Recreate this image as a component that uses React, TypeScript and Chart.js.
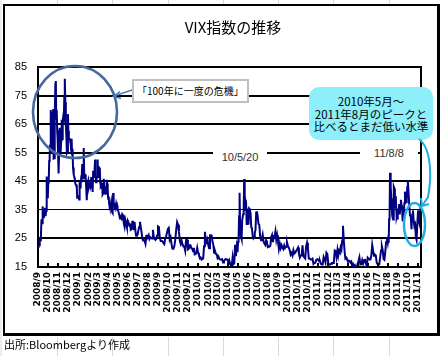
import React, { useEffect, useRef } from "react";
import { Chart, registerables } from "chart.js";

Chart.register(...registerables);

// ---- Data (VIX close, sampled through each month) ----
const monthLabels = [
  "2008/9", "2008/10", "2008/11", "2008/12",
  "2009/1", "2009/2", "2009/3", "2009/4", "2009/5", "2009/6", "2009/7", "2009/8", "2009/9", "2009/10", "2009/11", "2009/12",
  "2010/1", "2010/2", "2010/3", "2010/4", "2010/5", "2010/6", "2010/7", "2010/8", "2010/9", "2010/10", "2010/11", "2010/12",
  "2011/1", "2011/2", "2011/3", "2011/4", "2011/5", "2011/6", "2011/7", "2011/8", "2011/9", "2011/10", "2011/11",
];

const vix2008 = [
  [21.99, 22.4, 22.6, 25.5, 24.4, 25.7, 31.7, 30.3, 36.2, 33.1, 32.1, 33.9, 35.7, 32.8, 34.7, 46.7, 39.4],
  [39.8, 45.3, 45.1, 52.1, 53.7, 57.5, 63.9, 69.95, 55.0, 55.1, 69.25, 67.6, 70.3, 53.0, 53.1, 69.65, 67.8, 79.1, 80.06, 67.0, 69.96, 62.9, 59.9],
  [54.9, 47.7, 54.6, 63.7, 56.1, 55.0, 59.4, 66.5, 59.8, 66.3, 67.6, 65.5, 74.3, 80.86, 72.7, 64.7, 60.9, 54.9, 55.3],
  [68.5, 62.6, 59.9, 60.1, 59.9, 58.9, 58.0, 55.7, 59.9, 54.3, 56.4, 49.8, 49.0, 47.3, 46.3, 45.6, 44.2, 44.2, 43.4, 43.9, 39.2, 40.0],
];

const vix2009 = [
  [39.2, 39.1, 38.6, 43.4, 42.8, 43.9, 46.1, 45.8, 51.0, 51.0, 46.1, 56.65, 47.3, 47.3, 47.3, 45.7, 42.3, 38.4, 43.4, 44.8],
  [45.4, 43.1, 43.9, 43.4, 43.4, 42.5, 46.5, 43.0, 43.9, 41.3, 48.7, 47.1, 46.5, 49.3, 52.6, 47.1, 44.7, 45.9, 46.4],
  [52.65, 50.9, 46.4, 50.2, 49.3, 49.7, 44.4, 43.6, 44.0, 42.4, 44.4, 40.4, 40.7, 43.0, 45.9, 42.9, 43.2, 42.3, 40.3, 42.6, 45.5, 44.1],
  [42.3, 38.9, 39.7, 37.0, 36.2, 36.5, 36.4, 37.6, 35.8, 34.2, 33.9, 40.9, 37.6, 37.2, 36.8, 35.2, 35.9, 37.0, 36.0, 36.5],
  [35.3, 34.5, 33.4, 32.0, 32.1, 31.8, 33.5, 33.1, 30.2, 29.0, 31.4, 30.2, 28.9],
  [31.2, 30.6, 29.6, 29.8, 28.0, 28.2, 30.8, 30.8, 27.9, 30.7, 27.9, 25.9, 26.4],
  [26.4, 27.9, 29.0, 30.8, 29.0, 27.2, 25.0, 24.3, 24.4, 24.0, 23.1, 25.9, 25.9],
  [25.6, 26.2, 24.8, 25.4, 25.1, 25.0, 28.0, 25.6, 25.0, 24.5, 24.8, 26.0],
  [29.2, 29.0, 25.3, 24.1, 24.1, 24.0, 23.4, 23.0, 24.9, 25.6, 25.6],
  [28.3, 28.7, 24.6, 25.4, 22.9, 21.4, 21.4, 22.3, 24.6, 28.0, 30.7],
  [29.8, 27.3, 24.2, 23.1, 24.2, 22.9, 22.2, 22.2, 20.7, 24.7, 24.5],
  [21.1, 21.3, 22.6, 22.6, 21.6, 21.5, 20.5, 21.7, 19.4, 19.5, 20.0, 21.7],
];

const vix2010 = [
  [20.0, 19.2, 18.1, 18.3, 17.6, 17.9, 18.0, 22.3, 27.3, 24.6, 23.7, 24.6],
  [22.6, 21.6, 26.1, 26.1, 26.0, 23.9, 22.7, 20.0, 20.6, 19.6, 19.5],
  [18.2, 18.7, 17.8, 17.6, 17.6, 17.7, 16.6, 16.9, 17.6, 17.8, 17.6],
  [17.5, 16.2, 17.2, 16.1, 15.6, 15.7, 18.4, 16.0, 16.3, 22.8, 18.8, 22.1],
  [20.2, 23.8, 24.9, 32.8, 40.95, 28.8, 26.0, 25.5, 24.8, 31.2, 31.2, 33.5, 35.3, 45.79, 40.1, 38.3, 34.6, 35.6, 29.7, 32.1],
  [35.0, 29.8, 35.5, 35.2, 33.7, 28.8, 28.6, 25.9, 25.1, 25.6, 26.9, 28.0, 34.1, 34.5],
  [32.9, 30.1, 29.7, 25.7, 24.4, 24.9, 26.3, 23.9, 23.2, 22.7, 24.3, 23.5],
  [22.0, 22.2, 22.1, 22.4, 25.4, 26.2, 23.7, 25.5, 25.7, 27.5, 24.5, 26.1],
  [23.9, 21.3, 23.2, 21.6, 22.6, 21.7, 21.2, 22.6, 21.7, 22.1, 23.7],
  [22.5, 21.8, 20.9, 19.3, 19.9, 19.0, 20.9, 19.7, 20.0, 20.7, 21.2],
  [21.8, 19.6, 18.3, 19.0, 19.1, 22.6, 18.7, 18.4, 18.0, 22.2, 23.5],
  [21.4, 18.0, 17.9, 17.6, 17.6, 17.9, 16.1, 16.5, 16.5, 17.5, 17.75],
];

const vix2011 = [
  [17.6, 17.0, 17.1, 16.1, 15.9, 15.9, 18.5, 17.7, 16.6, 20.0, 19.5],
  [16.2, 15.9, 15.8, 16.1, 16.4, 16.4, 16.4, 20.8, 20.6, 18.4],
  [21.0, 19.1, 20.7, 20.2, 21.9, 21.1, 24.3, 29.4, 24.4, 20.6, 18.0, 18.3, 17.7],
  [17.4, 16.9, 17.1, 16.6, 16.9, 15.3, 16.0, 15.1, 15.6, 14.6, 14.75],
  [15.99, 17.1, 18.4, 15.9, 16.0, 17.4, 16.2, 17.4, 17.8, 16.1, 15.45],
  [18.3, 17.95, 17.6, 17.6, 19.0, 22.7, 20.6, 18.9, 19.3, 19.0, 16.5],
  [16.0, 15.7, 15.95, 18.4, 20.8, 22.3, 20.95, 17.8, 17.5, 20.2, 23.7, 25.25],
  [23.5, 24.8, 23.4, 31.7, 32.0, 48.0, 35.1, 42.99, 39.0, 36.4, 32.9, 32.9, 31.6, 42.7, 43.05, 42.4, 36.3, 35.9, 39.8, 35.6, 32.3, 32.9, 31.6],
  [33.9, 33.9, 37.0, 33.4, 35.9, 38.5, 36.9, 36.2, 31.0, 32.7, 32.9, 37.3, 41.35, 40.0, 37.7, 39.0, 43.0],
  [45.45, 40.8, 36.3, 33.0, 32.9, 28.2, 33.4, 34.8, 31.3, 29.3, 29.9, 25.5, 24.5, 30.0],
  [34.8, 32.7, 31.0, 30.5, 29.9, 29.4, 36.2, 32.8],
];

const yTicks = [15, 25, 35, 45, 55, 65, 75, 85];
const lastDay = 10; // data ends on 2011/11/10

// ---- Build points (x = days since 2008/9/1) ----
const DAY = 86400000;
const START = Date.UTC(2008, 8, 1);
const allMonths = [...vix2008, ...vix2009, ...vix2010, ...vix2011];
const monthStarts: number[] = [];
const points: { x: number; y: number }[] = [];
allMonths.forEach((vals, i) => {
  const yr = 2008 + Math.floor((8 + i) / 12);
  const mo = (8 + i) % 12;
  const s = (Date.UTC(yr, mo, 1) - START) / DAY;
  const e = (Date.UTC(yr, mo + 1, 1) - START) / DAY;
  monthStarts.push(s);
  const isLast = i === allMonths.length - 1;
  const n = vals.length;
  vals.forEach((v, j) => {
    const x = isLast ? s + (j * (lastDay - 1)) / (n - 1) : s + (j * (e - s)) / n;
    points.push({ x, y: v });
  });
});
const endX = points[points.length - 1].x;

const framePlugin = {
  id: "frameAndTicks",
  afterDraw(chart: any) {
    const { ctx, chartArea: a, scales } = chart;
    const xs = scales.x;
    ctx.save();
    ctx.strokeStyle = "#000";
    ctx.lineWidth = 2;
    ctx.beginPath();
    ctx.moveTo(a.right, a.top - 1);
    ctx.lineTo(a.right, a.bottom + 1);
    ctx.stroke();
    monthStarts.forEach((d) => {
      const px = Math.round(xs.getPixelForValue(d));
      ctx.beginPath();
      ctx.moveTo(px, a.bottom);
      ctx.lineTo(px, a.bottom - 4);
      ctx.stroke();
    });
    ctx.restore();
  },
};

const CJK = "'Noto Sans CJK JP', sans-serif";

export default function App() {
  const ref = useRef<HTMLCanvasElement | null>(null);

  useEffect(() => {
    if (!ref.current) return;
    const chart = new Chart(ref.current, {
      type: "line",
      data: {
        datasets: [
          {
            data: points,
            borderColor: "#000080",
            borderWidth: 2,
            pointRadius: 0,
            tension: 0,
            fill: false,
          },
        ],
      },
      options: {
        animation: false,
        responsive: false,
        maintainAspectRatio: false,
        layout: { padding: { left: 0, top: 67, right: 22, bottom: 19 } },
        plugins: {
          legend: { display: false },
          tooltip: { enabled: false },
          title: { display: false },
        },
        scales: {
          x: {
            type: "linear",
            min: 0,
            max: endX,
            afterBuildTicks: (ax: any) => {
              ax.ticks = monthStarts.map((v) => ({ value: v }));
            },
            afterFit: (s: any) => {
              s.height = 70;
            },
            ticks: {
              autoSkip: false,
              maxRotation: 90,
              minRotation: 90,
              padding: 5,
              color: "#000",
              font: { family: "'DejaVu Sans', sans-serif", size: 9, weight: "bold" },
              callback: (_v: any, i: number) => monthLabels[i],
            },
            grid: { drawOnChartArea: false, drawTicks: false },
            border: { color: "#000", width: 2 },
          },
          y: {
            min: 15,
            max: 85,
            afterBuildTicks: (ax: any) => {
              ax.ticks = yTicks.map((v) => ({ value: v }));
            },
            afterFit: (s: any) => {
              s.width = 38;
            },
            ticks: {
              padding: 11,
              color: "#000",
              font: { family: "'Liberation Sans', Arial, sans-serif", size: 11 },
            },
            grid: {
              color: "#000",
              lineWidth: (c: any) => (c.tick && c.tick.value === 35 ? 1 : 2),
              drawTicks: false,
            },
            border: { color: "#000", width: 2 },
          },
        },
      },
      plugins: [framePlugin],
    } as any);
    return () => chart.destroy();
  }, []);

  const gridXs = [57, 112, 168, 223, 278, 333, 389];

  return (
    <div style={{ position: "absolute", left: 0, top: 0, width: 443, height: 356, background: "#fff", overflow: "hidden" }}>
      {/* spreadsheet cell lines outside the chart frame */}
      <svg width={443} height={356} style={{ position: "absolute", left: 0, top: 0 }}>
        <line x1={1} y1={0} x2={1} y2={356} stroke="#d9d9d9" strokeWidth={1} />
        {gridXs.map((x) => (
          <g key={x}>
            <line x1={x + 0.5} y1={0} x2={x + 0.5} y2={4} stroke="#d9d9d9" strokeWidth={1} />
            <line x1={x + 0.5} y1={337} x2={x + 0.5} y2={356} stroke="#d9d9d9" strokeWidth={1} />
          </g>
        ))}
      </svg>
      {/* chart frame */}
      <div
        style={{
          position: "absolute",
          left: 3,
          top: 4,
          width: 437,
          height: 332,
          boxSizing: "border-box",
          borderLeft: "2px solid #000",
          borderTop: "2px solid #000",
          borderRight: "3px solid #000",
          borderBottom: "3px solid #000",
          background: "#fff",
        }}
      />
      <canvas
        ref={ref}
        width={443}
        height={356}
        style={{ position: "absolute", left: 0, top: 0, width: 443, height: 356 }}
      />
      {/* title */}
      <div
        style={{
          position: "absolute",
          left: 130,
          top: 17,
          width: 206,
          textAlign: "center",
          fontFamily: CJK,
          fontSize: 15,
          lineHeight: "20px",
          color: "#000",
        }}
      >
        VIX指数の推移
      </div>
      {/* callout 1 */}
      <div
        style={{
          position: "absolute",
          left: 132,
          top: 79,
          width: 117,
          height: 24,
          boxSizing: "border-box",
          border: "2px solid #c0c0c0",
          background: "#fff",
          fontFamily: CJK,
          fontSize: 10,
          lineHeight: "20px",
          paddingLeft: 3,
          color: "#000",
          whiteSpace: "nowrap",
        }}
      >
        「100年に一度の危機」
      </div>
      {/* date labels */}
      <div
        style={{
          position: "absolute",
          left: 213,
          top: 147,
          width: 54,
          height: 20,
          background: "#fff",
          textAlign: "center",
          fontFamily: "'Liberation Sans', Arial, sans-serif",
          fontSize: 11,
          lineHeight: "20px",
          color: "#333",
        }}
      >
        10/5/20
      </div>
      <div
        style={{
          position: "absolute",
          left: 360,
          top: 143,
          width: 58,
          height: 20,
          background: "#fff",
          textAlign: "center",
          fontFamily: "'Liberation Sans', Arial, sans-serif",
          fontSize: 11,
          lineHeight: "20px",
          color: "#333",
        }}
      >
        11/8/8
      </div>
      {/* callout 2 */}
      <div
        style={{
          position: "absolute",
          left: 309,
          top: 87,
          width: 124,
          height: 53,
          boxSizing: "border-box",
          borderRadius: 10,
          background: "#8CEFFA",
          textAlign: "center",
          fontFamily: CJK,
          fontSize: 11.5,
          lineHeight: "12.5px",
          paddingTop: 8,
          color: "#000",
          whiteSpace: "nowrap",
        }}
      >
        2010年5月～
        <br />
        2011年8月のピークと
        <br />
        比べるとまだ低い水準
      </div>
      {/* shapes */}
      <svg width={443} height={356} style={{ position: "absolute", left: 0, top: 0, pointerEvents: "none" }}>
        <ellipse cx={75} cy={112} rx={42} ry={46} fill="none" stroke="#44699A" strokeWidth={2.6} />
        <line x1={132} y1={90} x2={114} y2={96} stroke="#4A7EBB" strokeWidth={1.5} />
        <polyline points="120,91.5 113.5,96.5 121,98.5" fill="none" stroke="#4A7EBB" strokeWidth={1.5} />
        <path d="M 419 139 C 433 150, 431 182, 428 197 L 422 206" fill="none" stroke="#1DAEE5" strokeWidth={2} />
        <polyline points="421,198 422,206 429,204" fill="none" stroke="#1DAEE5" strokeWidth={2} />
        <ellipse cx={414.5} cy={224.5} rx={10.5} ry={21.5} fill="none" stroke="#1DAEE5" strokeWidth={2.5} />
      </svg>
      {/* source */}
      <div
        style={{
          position: "absolute",
          left: 4,
          top: 337,
          fontFamily: CJK,
          fontSize: 11,
          lineHeight: "15px",
          color: "#000",
          whiteSpace: "nowrap",
        }}
      >
        出所:Bloombergより作成
      </div>
    </div>
  );
}
